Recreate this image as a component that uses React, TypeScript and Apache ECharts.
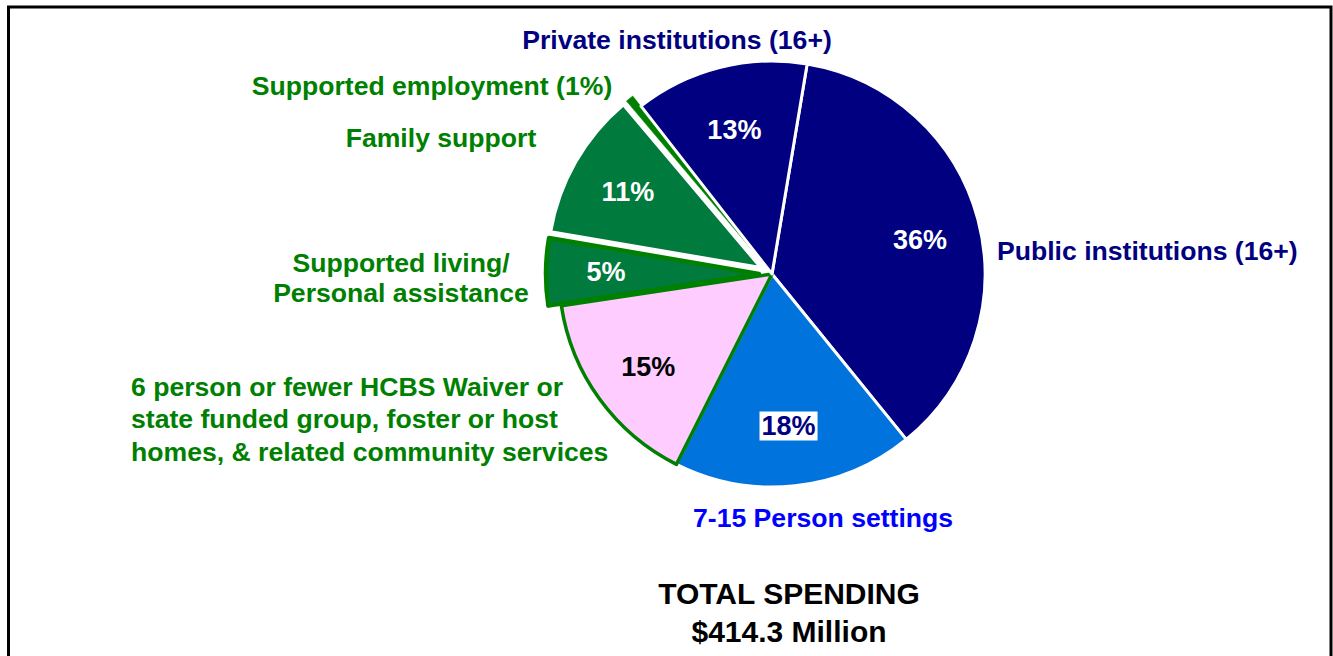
import React, { useEffect, useRef } from "react";
import * as echarts from "echarts";

// Data (clockwise from top)
const categories = [
  "Public institutions (16+)",
  "7-15 Person settings",
  "6 person or fewer HCBS Waiver or\nstate funded group, foster or host\nhomes, & related community services",
  "Supported living/\nPersonal assistance",
  "Family support",
  "Supported employment (1%)",
  "Private institutions (16+)",
];
const shares = [36, 18, 15, 5, 11, 0.6, 13];
const pctLabels = ["36%", "18%", "15%", "5%", "11%", "", "13%"];
const exploded = [false, false, false, true, true, true, false];
const totalTitle = "TOTAL SPENDING\n$414.3 Million";

// Styles
const FONT = "Arial, 'Liberation Sans', sans-serif";
const sliceFill = ["#000080", "#0073DC", "#FFCCFF", "#007A3D", "#007A3D", "#008000", "#000080"];
const sliceBorder = ["#FFFFFF", "#FFFFFF", "#008000", "#008000", "#FFFFFF", "#008000", "#FFFFFF"];
const sliceBorderWidth = [3, 3, 3.5, 4.5, 3, 0.5, 3];
const pctColor = ["#FFFFFF", "#000080", "#000000", "#FFFFFF", "#FFFFFF", "#FFFFFF", "#FFFFFF"];
const pctShiftY = [5, 0, 3, 5, 2, 0, 4];
const nameColor = ["#000080", "#0000FF", "#008000", "#008000", "#008000", "#008000", "#000080"];
const nameLayout = [
  { x: 997, y: 251, align: "left", lh: 30 },
  { x: 693, y: 518, align: "left", lh: 30 },
  { x: 131, y: 419, align: "left", lh: 32.5 },
  { x: 401, y: 278, align: "center", lh: 30 },
  { x: 441, y: 138, align: "center", lh: 30 },
  { x: 432, y: 86, align: "center", lh: 30 },
  { x: 677, y: 40, align: "center", lh: 30 },
];

const CENTER = [772, 274];
const RADIUS = 213;

export default function App() {
  const ref = useRef<HTMLDivElement>(null);
  useEffect(() => {
    if (!ref.current) return;
    const chart = echarts.init(ref.current, undefined, { renderer: "svg" });
    const mainData = categories.map((name, i) => ({
      name,
      value: shares[i],
      selected: exploded[i],
      itemStyle: {
        color: sliceFill[i],
        borderColor: sliceBorder[i],
        borderWidth: sliceBorderWidth[i],
      },
    }));
    const labelData = categories.map((name, i) => ({
      name,
      value: shares[i],
      selected: exploded[i],
      label: {
        show: pctLabels[i] !== "",
        formatter: pctLabels[i],
        color: pctColor[i],
        offset: [0, pctShiftY[i]],
        backgroundColor: i === 1 ? "#FFFFFF" : "transparent",
        padding: i === 1 ? [2, 2, 0, 2] : 0,
      },
    }));
    const graphics: any[] = [
      {
        type: "rect",
        shape: { x: 8.5, y: 7, width: 1322.5, height: 680 },
        style: { fill: "none", stroke: "#000", lineWidth: 3 },
        silent: true,
      },
      {
        type: "text",
        style: {
          text: totalTitle,
          x: 789,
          y: 612,
          align: "center",
          verticalAlign: "middle",
          font: `bold 30px ${FONT}`,
          lineHeight: 38,
          fill: "#000",
        },
      },
    ];
    categories.forEach((name, i) => {
      const l = nameLayout[i];
      graphics.push({
        type: "text",
        style: {
          text: name,
          x: l.x,
          y: l.y,
          align: l.align,
          verticalAlign: "middle",
          font: `bold 26.6px ${FONT}`,
          lineHeight: l.lh,
          fill: nameColor[i],
        },
      });
    });
    chart.setOption({
      animation: false,
      backgroundColor: "#FFFFFF",
      graphic: graphics,
      series: [
        {
          type: "pie",
          center: CENTER,
          radius: [0, RADIUS],
          startAngle: 80.5,
          clockwise: true,
          selectedMode: "multiple",
          selectedOffset: 13,
          avoidLabelOverlap: false,
          silent: true,
          label: { show: false },
          labelLine: { show: false },
          emphasis: { disabled: true },
          data: mainData,
        },
        {
          type: "pie",
          center: CENTER,
          radius: [87, RADIUS],
          startAngle: 80.5,
          clockwise: true,
          selectedMode: "multiple",
          selectedOffset: 13,
          avoidLabelOverlap: false,
          silent: true,
          itemStyle: { color: "rgba(0,0,0,0)", borderWidth: 0 },
          label: {
            show: true,
            position: "inside",
            fontFamily: FONT,
            fontWeight: "bold",
            fontSize: 27,
          },
          labelLine: { show: false },
          emphasis: { disabled: true },
          data: labelData,
        },
      ],
    });
    return () => chart.dispose();
  }, []);
  return (
    <div
      ref={ref}
      style={{ position: "absolute", left: 0, top: 0, width: 1333, height: 656 }}
    />
  );
}
